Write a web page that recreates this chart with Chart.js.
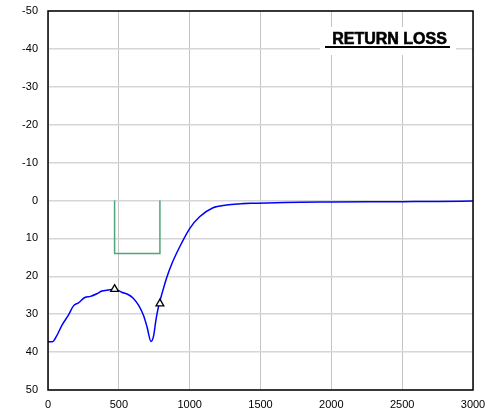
<!DOCTYPE html>
<html>
<head>
<meta charset="utf-8">
<script src="https://cdn.jsdelivr.net/npm/chart.js@4/dist/chart.umd.min.js"></script>
<style>
  html, body { margin: 0; padding: 0; background: #fff; }
  #wrap { width: 487px; height: 416px; }
</style>
</head>
<body>
<div id="wrap"><canvas id="rlChart" width="487" height="416"></canvas></div>
<script>
const freq = [0, 30, 60, 100, 145, 180, 215, 260, 300, 345, 380, 425, 470, 520, 565, 600, 640, 675, 700, 727, 745, 762, 780, 805, 840, 875, 930, 1000, 1070, 1165, 1260, 1345, 1430, 1610, 1780, 2000, 2250, 2500, 2750, 3000];
const returnLoss = [37.3, 37.3, 35.8, 32.8, 30.2, 27.8, 27.0, 25.6, 25.3, 24.6, 23.9, 23.6, 23.4, 24.2, 24.8, 25.7, 27.7, 30.4, 33.5, 37.2, 35.8, 31.5, 28.0, 24.5, 20.1, 16.6, 12.2, 7.4, 4.3, 1.9, 1.2, 0.9, 0.75, 0.6, 0.45, 0.4, 0.35, 0.3, 0.25, 0.15];

const maskX = [470, 470, 790, 790];
const maskY = [0, 14, 14, 0];

const markerX = [470, 790];
const markerY = [23.4, 27.2];

const xTicks = [0, 500, 1000, 1500, 2000, 2500, 3000];
const yTicks = [-50, -40, -30, -20, -10, 0, 10, 20, 30, 40, 50];

const titleText = "RETURN LOSS";

const toPoints = (xs, ys) => xs.map((x, i) => ({ x: x, y: ys[i] }));

// white box + underlined title sitting inside the plot
const titleBox = {
  id: "titleBox",
  beforeDatasetsDraw(chart) {
    const c = chart.ctx;
    c.save();
    c.fillStyle = "#fff";
    c.fillRect(320, 27, 136, 28);
    c.restore();
  },
  afterDraw(chart) {
    const c = chart.ctx;
    const area = chart.chartArea;
    c.save();
    // plot frame
    c.strokeStyle = "#000";
    c.lineWidth = 1.5;
    c.strokeRect(area.left, area.top, area.right - area.left, area.bottom - area.top);
    c.font = "bold 16px Arial, 'Liberation Sans', sans-serif";
    c.fillStyle = "#000";
    c.strokeStyle = "#000";
    c.lineWidth = 0.6;
    c.textAlign = "center";
    c.textBaseline = "alphabetic";
    c.fillText(titleText, 389.5, 44);
    c.strokeText(titleText, 389.5, 44);
    c.fillRect(325, 46, 125, 2);
    c.restore();
  }
};

new Chart(document.getElementById("rlChart"), {
  type: "scatter",
  data: {
    datasets: [
      {
        data: toPoints(markerX, markerY),
        pointStyle: "triangle",
        pointRadius: 4.5,
        pointBackgroundColor: "#fff",
        pointBorderColor: "#000",
        pointBorderWidth: 1.3,
        showLine: false,
      },
      {
        data: toPoints(freq, returnLoss),
        showLine: true,
        borderColor: "#0000ff",
        borderWidth: 1.5,
        pointRadius: 0,
        cubicInterpolationMode: "monotone",
      },
      {
        data: toPoints(maskX, maskY),
        showLine: true,
        borderColor: "#4fa67a",
        borderWidth: 1.5,
        pointRadius: 0,
        tension: 0,
      },
    ],
  },
  options: {
    responsive: false,
    animation: false,
    layout: { padding: { top: 11, right: 14, left: 0, bottom: 0 } },
    plugins: {
      legend: { display: false },
      tooltip: { enabled: false },
    },
    scales: {
      x: {
        type: "linear",
        min: 0,
        max: 3000,
        afterBuildTicks: scale => { scale.ticks = xTicks.map(v => ({ value: v })); },
        afterFit: scale => {
          scale.height = 26;
          scale.paddingLeft = 0;
          scale.paddingRight = 0;
        },
        ticks: {
          color: "#000",
          font: { family: "Arial, 'Liberation Sans', sans-serif", size: 11 },
          padding: 8,
          maxRotation: 0,
          callback: v => String(v),
        },
        grid: { color: "#c4c4c4", lineWidth: 1, drawTicks: false },
        border: { display: false },
      },
      y: {
        type: "linear",
        reverse: true,
        min: -50,
        max: 50,
        afterBuildTicks: scale => { scale.ticks = yTicks.map(v => ({ value: v })); },
        afterFit: scale => {
          scale.width = 48;
          scale.paddingTop = 0;
          scale.paddingBottom = 0;
        },
        ticks: {
          color: "#000",
          font: { family: "Arial, 'Liberation Sans', sans-serif", size: 11 },
          padding: 10,
          callback: v => String(v),
        },
        grid: { color: "#d6d6d6", lineWidth: 1.5, drawTicks: false },
        border: { display: false },
      },
    },
  },
  plugins: [titleBox],
});
</script>
</body>
</html>
